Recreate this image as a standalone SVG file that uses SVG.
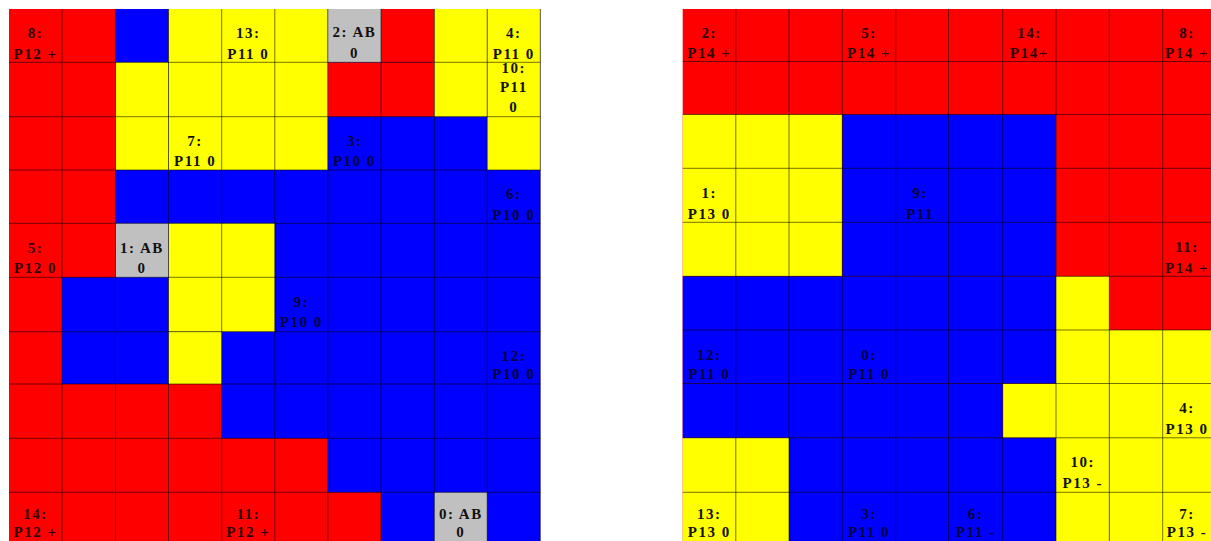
<svg xmlns="http://www.w3.org/2000/svg" width="1211" height="541" viewBox="0 0 1211 541">
<style>
.r{fill:#ff0000}.y{fill:#ffff00}.b{fill:#0000ff}.g{fill:#c0c0c0}
.ln{fill:none;stroke:#000;stroke-opacity:0.55;stroke-width:1}
text{font-family:"Liberation Serif","Times New Roman",serif;font-weight:bold;font-size:15px;text-anchor:middle;letter-spacing:1.5px}
.ty{fill:#111}.tr{fill:#2a0000}.tb{fill:#00003a}.tg{fill:#111}
</style>
<rect width="1211" height="541" fill="#fff"/>
<g id="left-grid">
<g id="left-regions">
<rect class="b" x="9" y="9" width="531.3" height="537"/>
<rect class="r" x="9" y="9" width="53" height="537"/>
<rect class="r" x="62" y="9" width="53.5" height="268.3"/>
<rect class="r" x="62" y="384" width="53.5" height="162"/>
<rect class="r" x="115.5" y="384" width="106.2" height="162"/>
<rect class="r" x="221.7" y="438.3" width="106.1" height="107.7"/>
<rect class="r" x="327.8" y="492.3" width="53.2" height="53.7"/>
<rect class="r" x="327.8" y="62.3" width="106.5" height="54.4"/>
<rect class="r" x="381" y="9" width="53.3" height="53.3"/>
<rect class="y" x="168.5" y="9" width="159.3" height="161"/>
<rect class="y" x="115.5" y="62.3" width="53" height="107.7"/>
<rect class="y" x="434.3" y="9" width="52.9" height="107.7"/>
<rect class="y" x="487.2" y="9" width="53.1" height="161"/>
<rect class="y" x="168.5" y="223.3" width="106.3" height="108.4"/>
<rect class="y" x="168.5" y="331.7" width="53.2" height="52.3"/>
<rect class="g" x="327.8" y="9" width="53.2" height="53.3"/>
<rect class="g" x="115.5" y="223.3" width="53" height="54"/>
<rect class="g" x="434.3" y="492.3" width="52.9" height="53.7"/>
</g>
<path id="left-lines" class="ln" d="M62,9V546M115.5,9V546M168.5,9V546M221.7,9V546M274.8,9V546M327.8,9V546M381,9V546M434.3,9V546M487.2,9V546M540.3,9V546M9,62.3H540.3M9,116.7H540.3M9,170H540.3M9,223.3H540.3M9,277.3H540.3M9,331.7H540.3M9,384H540.3M9,438.3H540.3M9,492.3H540.3"/>
<g id="L8"><text class="tr" x="35.5" y="38">8:</text><text class="tr" x="35.5" y="58.5">P12 +</text></g>
<g id="L13"><text class="ty" x="248.3" y="38">13:</text><text class="ty" x="248.3" y="58.5">P11 0</text></g>
<g id="L2"><text class="tg" x="354.4" y="37">2: AB</text><text class="tg" x="354.4" y="58">0</text></g>
<g id="L4"><text class="ty" x="513.8" y="38">4:</text><text class="ty" x="513.8" y="58.5">P11 0</text></g>
<g id="L10"><text class="ty" x="513.8" y="72.5">10:</text><text class="ty" x="513.8" y="92">P11</text><text class="ty" x="513.8" y="112">0</text></g>
<g id="L7"><text class="ty" x="195.1" y="145.5">7:</text><text class="ty" x="195.1" y="166">P11 0</text></g>
<g id="L3"><text class="tb" x="354.4" y="145.5">3:</text><text class="tb" x="354.4" y="166">P10 0</text></g>
<g id="L6"><text class="tb" x="513.8" y="198.5">6:</text><text class="tb" x="513.8" y="219.5">P10 0</text></g>
<g id="L5"><text class="tr" x="35.5" y="252.5">5:</text><text class="tr" x="35.5" y="273">P12 0</text></g>
<g id="L1"><text class="tg" x="142" y="252.5">1: AB</text><text class="tg" x="142" y="272.5">0</text></g>
<g id="L9"><text class="tb" x="301.3" y="306.5">9:</text><text class="tb" x="301.3" y="327">P10 0</text></g>
<g id="L12"><text class="tb" x="513.8" y="360.5">12:</text><text class="tb" x="513.8" y="379">P10 0</text></g>
<g id="L14"><text class="tr" x="35.5" y="519">14:</text><text class="tr" x="35.5" y="536.5">P12 +</text></g>
<g id="L11"><text class="tr" x="248.3" y="519">11:</text><text class="tr" x="248.3" y="536.5">P12 +</text></g>
<g id="L0"><text class="tg" x="460.8" y="519">0: AB</text><text class="tg" x="460.8" y="536.5">0</text></g>
</g>
<g id="right-grid">
<g id="right-regions">
<rect class="r" x="682.7" y="9" width="533.3" height="537"/>
<rect class="y" x="682.7" y="114.5" width="159.6" height="161.8"/>
<rect class="y" x="682.7" y="437.8" width="106.3" height="108.2"/>
<rect class="y" x="1056" y="276.3" width="53.3" height="269.7"/>
<rect class="y" x="1109.3" y="330" width="106.7" height="216"/>
<rect class="y" x="1002.7" y="383.5" width="53.3" height="54.3"/>
<rect class="b" x="842.3" y="114.5" width="213.7" height="161.8"/>
<rect class="b" x="682.7" y="276.3" width="373.3" height="107.2"/>
<rect class="b" x="682.7" y="383.5" width="320" height="54.3"/>
<rect class="b" x="789" y="437.8" width="267" height="108.2"/>
</g>
<path id="right-lines" class="ln" d="M735.8,9V546M789,9V546M842.3,9V546M895.7,9V546M948.5,9V546M1002.7,9V546M1056,9V546M1109.3,9V546M1162.7,9V546M682.7,61.5H1216M682.7,114.5H1216M682.7,168.3H1216M682.7,222.3H1216M682.7,276.3H1216M682.7,330H1216M682.7,383.5H1216M682.7,437.8H1216M682.7,492.3H1216"/>
<g id="R2"><text class="tr" x="709.3" y="38">2:</text><text class="tr" x="709.3" y="58">P14 +</text></g>
<g id="R5"><text class="tr" x="869" y="38">5:</text><text class="tr" x="869" y="58">P14 +</text></g>
<g id="R14"><text class="tr" x="1029.4" y="38">14:</text><text class="tr" x="1029.4" y="58">P14+</text></g>
<g id="R8"><text class="tr" x="1187" y="38">8:</text><text class="tr" x="1187" y="58">P14 +</text></g>
<g id="R1"><text class="ty" x="709.3" y="198">1:</text><text class="ty" x="709.3" y="218.5">P13 0</text></g>
<g id="R9"><text class="tb" x="920" y="198">9:</text><text class="tb" x="920" y="218.5">P11</text></g>
<g id="R11"><text class="tr" x="1187" y="252">11:</text><text class="tr" x="1187" y="272.5">P14 +</text></g>
<g id="R12"><text class="tb" x="709.3" y="360">12:</text><text class="tb" x="709.3" y="378.5">P11 0</text></g>
<g id="R0"><text class="tb" x="869" y="360">0:</text><text class="tb" x="869" y="378.5">P11 0</text></g>
<g id="R4"><text class="ty" x="1187" y="413">4:</text><text class="ty" x="1187" y="433.5">P13 0</text></g>
<g id="R10"><text class="ty" x="1082.7" y="467">10:</text><text class="ty" x="1082.7" y="487.5">P13 -</text></g>
<g id="R13"><text class="ty" x="709.3" y="519">13:</text><text class="ty" x="709.3" y="536.5">P13 0</text></g>
<g id="R3"><text class="tb" x="869" y="519">3:</text><text class="tb" x="869" y="536.5">P11 0</text></g>
<g id="R6"><text class="tb" x="975.6" y="519">6:</text><text class="tb" x="975.6" y="536.5">P11 -</text></g>
<g id="R7"><text class="ty" x="1187" y="519">7:</text><text class="ty" x="1187" y="536.5">P13 -</text></g>
</g>
<g id="connectors"/>
</svg>
